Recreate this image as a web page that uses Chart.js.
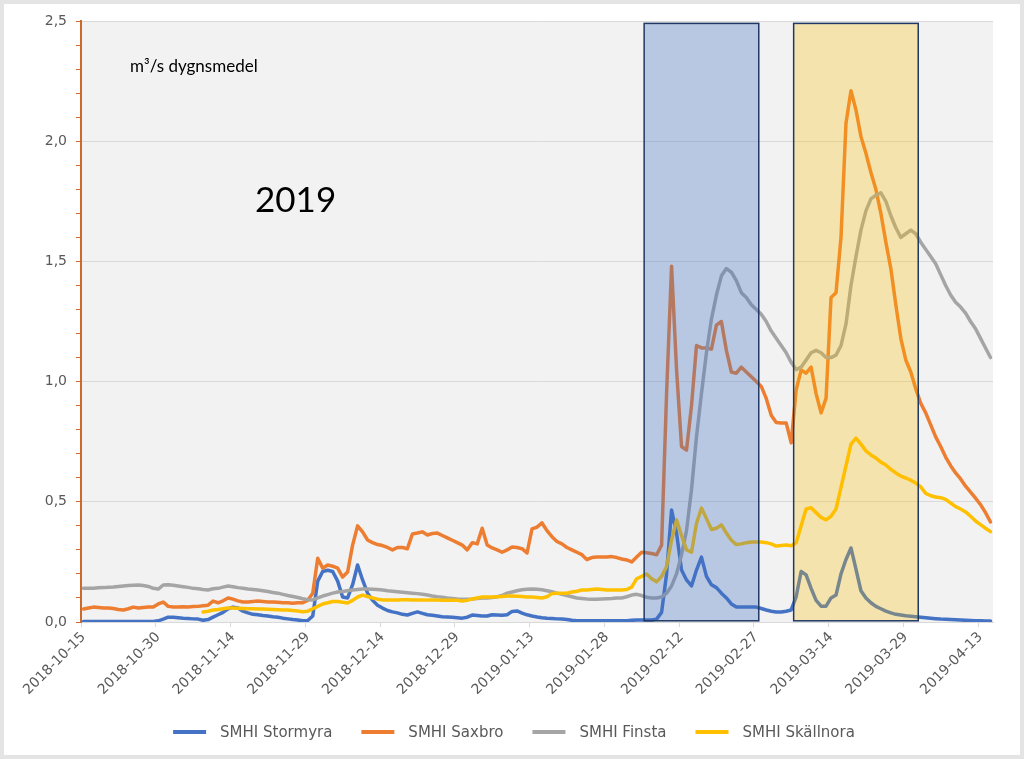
<!DOCTYPE html>
<html>
<head>
<meta charset="utf-8">
<script src="https://cdn.jsdelivr.net/npm/chart.js@4"></script>
<style>
  html, body { margin: 0; padding: 0; background: #e4e4e4; }
  #wrap { width: 1024px; height: 759px; }
</style>
</head>
<body>
<div id="wrap"><canvas id="flowChart" width="1024" height="759"></canvas></div>
<script>
// Daily mean discharge (m3/s), one value per day from 2018-10-15
const firstDay = [2018, 9, 15];
const tickEvery = 15;

const stormyra = [
    0.002, 0.002, 0.002, 0.002, 0.002, 0.002, 0.002, 0.002, 0.002, 0.002,
    0.002, 0.002, 0.002, 0.002, 0.002, 0.005, 0.012, 0.02, 0.02, 0.018,
    0.016, 0.015, 0.013, 0.012, 0.007, 0.01, 0.02, 0.03, 0.04, 0.055,
    0.062, 0.058, 0.045, 0.038, 0.032, 0.03, 0.027, 0.025, 0.022, 0.02,
    0.016, 0.013, 0.01, 0.008, 0.005, 0.006, 0.025, 0.17, 0.21, 0.215,
    0.21, 0.17, 0.104, 0.10, 0.155, 0.237, 0.175, 0.12, 0.09, 0.07,
    0.058, 0.048, 0.042, 0.038, 0.032, 0.029, 0.036, 0.042, 0.036, 0.03,
    0.028, 0.025, 0.022, 0.021, 0.02, 0.018, 0.016, 0.02, 0.029, 0.027,
    0.025, 0.025, 0.03, 0.029, 0.028, 0.03, 0.044, 0.046, 0.037, 0.03,
    0.025, 0.021, 0.018, 0.016, 0.015, 0.013, 0.012, 0.01, 0.007, 0.005,
    0.005, 0.005, 0.005, 0.005, 0.005, 0.005, 0.005, 0.005, 0.005, 0.005,
    0.007, 0.008, 0.008, 0.008, 0.008, 0.012, 0.04, 0.2, 0.466, 0.37,
    0.216, 0.175, 0.15, 0.216, 0.27, 0.19, 0.155, 0.143, 0.12, 0.10,
    0.075, 0.062, 0.062, 0.062, 0.062, 0.062, 0.056, 0.05, 0.045, 0.042,
    0.042, 0.045, 0.05, 0.105, 0.21, 0.196, 0.14, 0.09, 0.066, 0.066,
    0.10, 0.112, 0.20, 0.26, 0.308, 0.22, 0.13, 0.10, 0.08, 0.065,
    0.055, 0.045, 0.038, 0.032, 0.029, 0.026, 0.024, 0.022, 0.02, 0.018,
    0.016, 0.014, 0.012, 0.011, 0.01, 0.009, 0.008, 0.007, 0.006, 0.005,
    0.005, 0.004, 0.004
];

const saxbro = [
    0.054, 0.058, 0.062, 0.06, 0.058, 0.058, 0.056, 0.052, 0.05, 0.055,
    0.062, 0.058, 0.06, 0.062, 0.062, 0.075, 0.083, 0.065, 0.062, 0.062,
    0.063, 0.062, 0.064, 0.065, 0.068, 0.07, 0.087, 0.08, 0.088, 0.10,
    0.095, 0.088, 0.083, 0.083, 0.085, 0.087, 0.085, 0.083, 0.083, 0.082,
    0.08, 0.08, 0.078, 0.08, 0.08, 0.09, 0.12, 0.265, 0.224, 0.237,
    0.232, 0.224, 0.187, 0.208, 0.32, 0.40, 0.375, 0.341, 0.33, 0.322,
    0.318, 0.31, 0.30, 0.31, 0.31, 0.305, 0.366, 0.37, 0.375, 0.362,
    0.368, 0.37, 0.36, 0.35, 0.34, 0.33, 0.32, 0.30, 0.33, 0.325,
    0.39, 0.32, 0.308, 0.30, 0.29, 0.30, 0.312, 0.31, 0.305, 0.287,
    0.387, 0.395, 0.412, 0.38, 0.355, 0.335, 0.325, 0.31, 0.30, 0.29,
    0.28, 0.26, 0.268, 0.27, 0.27, 0.27, 0.272, 0.268, 0.262, 0.258,
    0.25, 0.27, 0.29, 0.288, 0.285, 0.28, 0.32, 0.95, 1.48, 1.05,
    0.73, 0.715, 0.90, 1.15, 1.14, 1.14, 1.135, 1.235, 1.25, 1.13,
    1.04, 1.035, 1.06, 1.04, 1.02, 1.0, 0.98, 0.93, 0.86, 0.83,
    0.828, 0.828, 0.745, 0.965, 1.048, 1.035, 1.06, 0.95, 0.87, 0.93,
    1.35, 1.37, 1.60, 2.075, 2.21, 2.13, 2.02, 1.95, 1.87, 1.80,
    1.70, 1.58, 1.47, 1.32, 1.18, 1.09, 1.04, 0.97, 0.91, 0.87,
    0.82, 0.77, 0.73, 0.686, 0.65, 0.62, 0.595, 0.565, 0.54, 0.515,
    0.488, 0.455, 0.416
];

const finsta = [
    0.14, 0.14, 0.14, 0.142, 0.143, 0.145, 0.146, 0.148, 0.15, 0.152,
    0.153, 0.154, 0.152, 0.148, 0.14, 0.137, 0.154, 0.155, 0.153, 0.15,
    0.147, 0.144, 0.14, 0.138, 0.135, 0.133, 0.138, 0.14, 0.145, 0.15,
    0.147, 0.143, 0.14, 0.137, 0.135, 0.133, 0.13, 0.127, 0.123, 0.12,
    0.115, 0.11, 0.106, 0.102, 0.097, 0.093, 0.092, 0.10, 0.108, 0.114,
    0.12, 0.125, 0.127, 0.13, 0.133, 0.135, 0.137, 0.137, 0.136, 0.135,
    0.133, 0.13, 0.128, 0.126, 0.124, 0.122, 0.12, 0.118, 0.115, 0.112,
    0.108, 0.105, 0.103, 0.10, 0.098, 0.096, 0.095, 0.095, 0.096, 0.098,
    0.10, 0.10, 0.102, 0.105, 0.11, 0.12, 0.125, 0.13, 0.134, 0.136,
    0.137, 0.136, 0.134, 0.13, 0.126, 0.12, 0.115, 0.11, 0.105, 0.10,
    0.098, 0.096, 0.095, 0.095, 0.096, 0.097, 0.098, 0.10, 0.10, 0.105,
    0.112, 0.115, 0.11, 0.103, 0.10, 0.10, 0.104, 0.12, 0.15, 0.20,
    0.28, 0.38, 0.55, 0.77, 0.95, 1.12, 1.26, 1.36, 1.44, 1.47,
    1.455, 1.42, 1.37, 1.35, 1.32, 1.30, 1.28, 1.25, 1.21, 1.18,
    1.15, 1.12, 1.08, 1.05, 1.06, 1.09, 1.12, 1.13, 1.12, 1.10,
    1.10, 1.11, 1.15, 1.24, 1.40, 1.52, 1.63, 1.71, 1.76, 1.775,
    1.785, 1.75, 1.69, 1.64, 1.60, 1.615, 1.63, 1.615, 1.58, 1.55,
    1.52, 1.49, 1.445, 1.40, 1.36, 1.33, 1.31, 1.285, 1.25, 1.22,
    1.18, 1.14, 1.10
];

// no Skällnora values before 2018-11-08
const skallnora = [
    null, null, null, null, null, null, null, null, null, null,
    null, null, null, null, null, null, null, null, null, null,
    null, null, null, null, 0.042, 0.045, 0.05, 0.052, 0.055, 0.058,
    0.058, 0.057, 0.056, 0.055, 0.055, 0.054, 0.054, 0.053, 0.052, 0.051,
    0.05, 0.05, 0.048, 0.046, 0.043, 0.045, 0.055, 0.065, 0.075, 0.08,
    0.085, 0.085, 0.082, 0.079, 0.09, 0.104, 0.112, 0.106, 0.10, 0.095,
    0.092, 0.092, 0.092, 0.092, 0.093, 0.093, 0.092, 0.092, 0.092, 0.091,
    0.091, 0.091, 0.09, 0.09, 0.09, 0.09, 0.087, 0.09, 0.096, 0.10,
    0.104, 0.104, 0.104, 0.105, 0.106, 0.108, 0.108, 0.107, 0.106, 0.104,
    0.104, 0.102, 0.10, 0.105, 0.118, 0.12, 0.12, 0.12, 0.125, 0.128,
    0.133, 0.133, 0.135, 0.137, 0.135, 0.133, 0.133, 0.133, 0.133, 0.135,
    0.145, 0.18, 0.19, 0.20, 0.18, 0.167, 0.19, 0.23, 0.34, 0.425,
    0.36, 0.30, 0.29, 0.41, 0.474, 0.43, 0.385, 0.39, 0.404, 0.37,
    0.34, 0.322, 0.325, 0.33, 0.333, 0.333, 0.333, 0.33, 0.325, 0.316,
    0.318, 0.32, 0.317, 0.33, 0.40, 0.47, 0.475, 0.455, 0.435, 0.425,
    0.44, 0.47, 0.56, 0.65, 0.74, 0.765, 0.74, 0.712, 0.695, 0.682,
    0.665, 0.653, 0.635, 0.62, 0.607, 0.599, 0.59, 0.578, 0.562, 0.535,
    0.525, 0.52, 0.517, 0.51, 0.495, 0.48, 0.47, 0.458, 0.44, 0.42,
    0.405, 0.39, 0.376
];

// Shaded periods (first and last day)
const periodStart = ['2019-02-05', '2019-03-07'];
const periodEnd = ['2019-02-27', '2019-03-31'];

const unitText = 'm\u00b3/s dygnsmedel';
const yearText = '2019';

// Build date labels
const dates = [];
for (let i = 0; i < stormyra.length; i++) {
    const d = new Date(Date.UTC(firstDay[0], firstDay[1], firstDay[2]) + i * 864e5);
    dates.push(d.toISOString().slice(0, 10));
}

const colors = {
    stormyra: '#4472c4',
    saxbro: '#ed7d31',
    finsta: '#a5a5a5',
    skallnora: '#ffc000',
    axis: '#cc6a2c',
    grid: '#d9d9d9',
    text: '#595959',
    plot: '#f2f2f2',
    periods: ['rgba(68, 114, 196, 0.33)', 'rgba(255, 192, 0, 0.28)'],
    periodBorder: '#1f3864'
};

const tickFont = { family: 'DejaVu Sans', size: 14 };

function isMajor(v) {
    return Math.abs(v * 2 - Math.round(v * 2)) < 1e-6;
}

function lineSet(label, data, color, order) {
    return {
        label: label,
        data: data,
        borderColor: color,
        backgroundColor: color,
        borderWidth: 3.5,
        pointRadius: 0,
        pointHoverRadius: 0,
        tension: 0,
        borderJoinStyle: 'round',
        borderCapStyle: 'round',
        order: order
    };
}

// Frame, plot background and text
const decorPlugin = {
    id: 'decor',
    beforeDraw(chart) {
        const ctx = chart.ctx;
        const a = chart.chartArea;
        ctx.save();
        ctx.fillStyle = '#e4e4e4';
        ctx.fillRect(0, 0, chart.width, chart.height);
        ctx.fillStyle = '#ffffff';
        ctx.fillRect(4, 4, chart.width - 8, chart.height - 8);
        ctx.fillStyle = colors.plot;
        ctx.fillRect(a.left, a.top, a.right - a.left, a.bottom - a.top);
        ctx.restore();
    },
    afterDraw(chart) {
        const ctx = chart.ctx;
        const a = chart.chartArea;
        ctx.save();
        ctx.fillStyle = '#000000';
        ctx.textBaseline = 'alphabetic';
        ctx.font = '17px Lato';
        ctx.fillText(unitText, a.left + 49, a.top + 51);
        ctx.font = '35px Lato';
        ctx.fillText(yearText, a.left + 174, a.top + 191);

        // legend
        const sets = chart.data.datasets;
        ctx.font = '15px "DejaVu Sans"';
        const boxW = 33, gapText = 14, gapItem = 29;
        let total = 0;
        const widths = sets.map(s => ctx.measureText(s.label).width);
        widths.forEach(w => { total += boxW + gapText + w; });
        total += gapItem * (sets.length - 1);
        let x = chart.width / 2 + 2 - total / 2;
        const y = 732;
        ctx.textBaseline = 'middle';
        sets.forEach((s, i) => {
            ctx.strokeStyle = s.borderColor;
            ctx.lineWidth = 4;
            ctx.lineCap = 'butt';
            ctx.beginPath();
            ctx.moveTo(x, y);
            ctx.lineTo(x + boxW, y);
            ctx.stroke();
            ctx.fillStyle = colors.text;
            ctx.fillText(s.label, x + boxW + gapText, y + 1);
            x += boxW + gapText + widths[i] + gapItem;
        });
        ctx.restore();
    }
};

// Semi-transparent period boxes drawn over the lines
const periodPlugin = {
    id: 'periods',
    afterDatasetsDraw(chart) {
        const ctx = chart.ctx;
        const xs = chart.scales.x;
        const ys = chart.scales.y;
        const slot = xs.getPixelForValue(1) - xs.getPixelForValue(0);
        const top = ys.getPixelForValue(2.49);
        const bottom = ys.getPixelForValue(0.005);
        ctx.save();
        periodStart.forEach((start, i) => {
            const x0 = xs.getPixelForValue(dates.indexOf(start)) - slot / 2;
            const x1 = xs.getPixelForValue(dates.indexOf(periodEnd[i])) + slot / 2;
            ctx.fillStyle = colors.periods[i];
            ctx.fillRect(x0, top, x1 - x0, bottom - top);
            ctx.strokeStyle = colors.periodBorder;
            ctx.lineWidth = 1.5;
            ctx.strokeRect(x0, top, x1 - x0, bottom - top);
        });
        ctx.restore();
    }
};

new Chart(document.getElementById('flowChart'), {
    type: 'line',
    data: {
        labels: dates,
        datasets: [
            lineSet('SMHI Stormyra', stormyra, colors.stormyra, 4),
            lineSet('SMHI Saxbro', saxbro, colors.saxbro, 3),
            lineSet('SMHI Finsta', finsta, colors.finsta, 2),
            lineSet('SMHI Skällnora', skallnora, colors.skallnora, 1)
        ]
    },
    options: {
        responsive: false,
        animation: false,
        layout: {
            padding: { left: 0, right: 31, top: 21, bottom: 45 }
        },
        plugins: {
            legend: { display: false },
            tooltip: { enabled: false },
            title: { display: false }
        },
        scales: {
            x: {
                type: 'category',
                offset: true,
                grid: {
                    offset: true,
                    drawOnChartArea: false,
                    drawTicks: true,
                    tickLength: 5,
                    tickColor: ctx => ctx.index % tickEvery === 0 ? colors.grid : 'rgba(0,0,0,0)'
                },
                border: { color: colors.grid, width: 1 },
                ticks: {
                    autoSkip: false,
                    minRotation: 45,
                    maxRotation: 45,
                    padding: 2,
                    color: colors.text,
                    font: tickFont,
                    callback: function(value, index) {
                        return index % tickEvery === 0 ? this.getLabelForValue(value) : '';
                    }
                },
                afterFit: scale => { scale.height = 92; }
            },
            y: {
                min: 0,
                max: 2.5,
                grid: {
                    color: ctx => (ctx.tick && isMajor(ctx.tick.value)) ? colors.grid : 'rgba(0,0,0,0)',
                    tickColor: colors.axis,
                    tickLength: 5
                },
                border: { color: colors.axis, width: 2 },
                ticks: {
                    stepSize: 0.1,
                    autoSkip: false,
                    padding: 9,
                    color: colors.text,
                    font: tickFont,
                    callback: v => isMajor(v) ? v.toFixed(1).replace('.', ',') : ''
                },
                afterFit: scale => { scale.width = 81; }
            }
        }
    },
    plugins: [decorPlugin, periodPlugin]
});
</script>
</body>
</html>
